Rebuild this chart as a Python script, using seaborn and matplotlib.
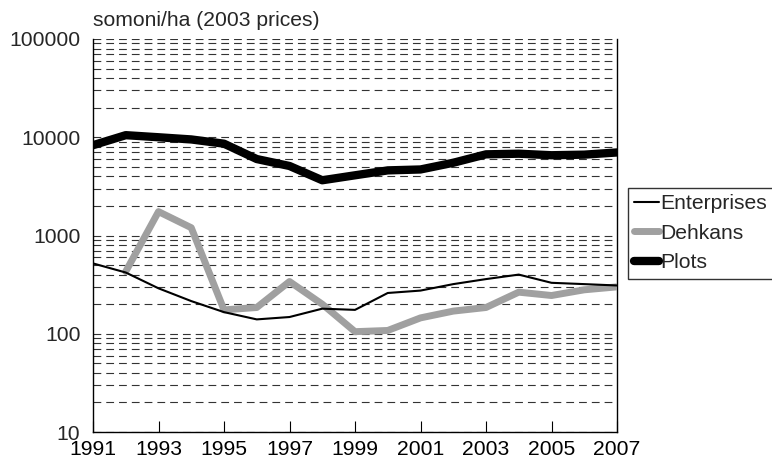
import matplotlib
matplotlib.use("Agg")
import matplotlib.pyplot as plt
import seaborn as sns
import pandas as pd
import numpy as np
from matplotlib.ticker import LogLocator, FixedLocator, NullFormatter

years = list(range(1991, 2008))
enterprises = [520, 420, 290, 215, 166, 140, 148, 180, 175, 260, 275, 320, 360, 400, 330, 320, 310]
dehkans = [np.nan, 430, 1750, 1200, 175, 185, 340, 200, 105, 108, 145, 170, 185, 265, 245, 280, 300]
plots = [8300, 10500, 10000, 9500, 8600, 6000, 5100, 3650, 4100, 4600, 4700, 5500, 6700, 6800, 6560, 6650, 7000]
x_ticks = list(range(1991, 2008, 2))
y_ticks = [10, 100, 1000, 10000, 100000]

sns.set_style("white")
plt.rcParams['font.family'] = ['Liberation Sans', 'DejaVu Sans']

FS = 15.2

fig = plt.figure(figsize=(7.72, 4.63), dpi=100)
ax = fig.add_axes([93/772, 1-432/463, (617-93)/772, (432-39)/463])

df = pd.DataFrame({"year": years, "Enterprises": enterprises, "Dehkans": dehkans, "Plots": plots})

sns.lineplot(data=df, x="year", y="Plots", ax=ax, color="black", linewidth=6, label="Plots", zorder=3)
sns.lineplot(data=df.dropna(), x="year", y="Dehkans", ax=ax, color="#a0a0a0", linewidth=5, label="Dehkans", zorder=4)
sns.lineplot(data=df, x="year", y="Enterprises", ax=ax, color="black", linewidth=1.5, label="Enterprises", zorder=5)

ax.set_yscale("log")
ax.set_ylim(10, 100000)
ax.set_xlim(1991, 2007)
ax.set_xticks(x_ticks)
ax.set_xticklabels([str(v) for v in x_ticks])
ax.yaxis.set_major_locator(FixedLocator(y_ticks))
ax.set_yticklabels([str(v) for v in y_ticks])
ax.yaxis.set_minor_locator(LogLocator(base=10, subs=np.arange(2, 10)))
ax.yaxis.set_minor_formatter(NullFormatter())
ax.set_xlabel("")
ax.set_ylabel("")

ax.grid(False)
ax.yaxis.grid(True, which="both", color="#333333", linestyle=(0, (7, 4.5)), linewidth=0.8, zorder=0)
ax.set_axisbelow(True)

ax.tick_params(axis="x", direction="in", length=8, width=0.8, labelsize=FS, pad=5.5, colors="black", top=False, bottom=True)
ax.tick_params(axis="y", which="both", length=0, labelsize=FS, pad=9)

for side in ["left", "right", "bottom"]:
    ax.spines[side].set_visible(True)
    ax.spines[side].set_color("black")
    ax.spines[side].set_linewidth(1.0)
ax.spines["top"].set_visible(False)

ax.get_legend().remove()
handles, labels = ax.get_legend_handles_labels()
order = [labels.index(n) for n in ["Enterprises", "Dehkans", "Plots"]]
leg = fig.legend([handles[i] for i in order], [labels[i] for i in order],
                 loc="upper left", bbox_to_anchor=(628/772, 1-188/463),
                 fontsize=FS, frameon=True, fancybox=False, edgecolor="black",
                 handlelength=1.15, handletextpad=0.1, labelspacing=0.5,
                 borderpad=0.3, borderaxespad=0)
leg.get_frame().set_linewidth(1.0)

fig.text(93/772, 1-21/463, "somoni/ha (2003 prices)", fontsize=FS, va="center", ha="left")

fig.savefig("out.png", dpi=100)
